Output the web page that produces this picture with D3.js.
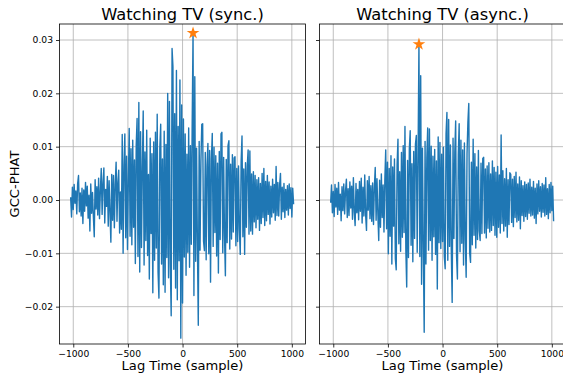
<!DOCTYPE html>
<html>
<head>
<meta charset="utf-8">
<script src="https://cdn.jsdelivr.net/npm/d3@7"></script>
<style>
body { margin: 0; background: #fff; }
text { font-family: "DejaVu Sans", sans-serif; fill: #000; }
</style>
</head>
<body>
<div id="chart"></div>
<script>
// GCC-PHAT values in units of 1e-3, one every 8 lag samples from -1024
var lagStart = -1024, lagStep = 8;
var syncVals = [
  0.5, -3.2, 2.4, -1.8, 2.9, -0.6, 1.7, -2.6, 3.1, 4.6, -2.2, 1.3, -3.0, 2.2, -4.4, 1.9,
  -2.1, 3.3, -1.1, 2.6, -3.4, 0.9, -5.8, 3.0, -2.5, 1.4, -3.1, -6.9, 3.8, -1.7, 2.5, -2.8,
  4.1, -3.5, 1.8, 5.9, -2.7, 3.2, 6.0, -4.3, 2.0, -1.2, 4.4, -4.9, 3.6, -2.3, -7.9, 4.8,
  -3.8, 4.6, -5.2, 2.9, 7.1, -4.0, 3.3, 5.6, -6.2, 1.5, -5.5, 12.3, -10.0, 6.4, 12.4, -7.1,
  8.2, -9.3, 3.7, 13.4, -6.8, 9.6, -8.4, 11.2, -5.1, 7.5, -11.9, 10.3, 15.3, -10.6, 18.3, -13.5,
  12.8, -8.9, 6.1, 16.7, -12.2, 9.0, -7.6, 13.1, -10.4, 4.8, -14.8, 11.6, -6.3, 8.7, -17.4, 10.9,
  -11.3, 12.7, -9.0, 16.1, -13.6, -18.4, 9.8, 14.2, -12.0, 7.7, -15.9, 12.9, -17.3, 10.4, -10.8, 20.0,
  -14.6, 18.5, -12.1, -21.7, 28.4, 25.0, -13.0, 16.2, -16.5, 24.3, -18.7, 13.8, -11.4, 22.5, -25.9, 17.8,
  -19.3, 15.2, -10.7, 12.4, -14.1, 8.6, -9.8, 13.5, -12.6, 10.2, -8.3, 14.0, 31.3, -17.9, 23.1, -11.5,
  9.7, -8.2, -23.5, 11.0, -9.4, 7.3, 14.2, 14.3, -7.7, -9.5, 8.9, -11.2, 6.5, 10.6, -10.1, 9.3,
  -15.4, 7.8, 12.5, -8.7, 9.9, -6.1, 8.3, -10.5, 6.9, -13.7, 9.1, -7.4, 12.4, 12.7, -9.9, 8.0,
  -6.8, -14.2, 7.6, -8.0, 10.2, 11.1, -9.2, 6.7, -7.3, 8.5, -6.0, 7.9, 8.1, -8.6, 5.9, -7.8,
  6.4, -5.5, -10.2, 7.2, 12.0, -6.9, 5.8, -10.2, 7.0, -5.1, 6.3, 9.4, -6.4, 9.2, -5.8, 4.9,
  -6.4, 5.3, -4.1, 4.6, -5.2, 3.8, -3.6, 4.2, -5.7, 3.1, -4.4, 5.0, -3.3, 5.9, -4.8, 3.5,
  -3.9, 4.6, -2.7, 3.4, -4.5, 2.6, -3.2, 3.9, -2.4, 2.9, -3.8, 6.3, -2.9, 3.3, -3.0, 2.8,
  5.0, -3.6, 2.4, -2.2, 3.1, -3.3, 2.0, -1.9, 2.7, -2.8, 3.0, -1.6, 2.3, -3.2, 2.2, -0.8
];
var asyncVals = [
  -0.5, 2.8, -2.4, 1.6, -3.1, 2.9, -1.3, 2.2, -2.7, 3.3, -1.9, 1.1, -3.9, 2.5, -2.0, 3.0,
  -2.6, 1.7, 3.9, -3.3, 2.1, -2.9, 3.4, -1.5, 2.6, -3.6, 4.2, -2.2, -4.8, 3.1, -2.4, 2.0,
  -3.7, 3.5, -2.1, 4.1, -4.3, 2.4, -3.0, 4.7, -2.8, -5.7, 3.6, -1.9, 4.4, -3.5, 2.7, -4.0,
  3.2, -4.6, 2.5, 6.1, -3.8, 4.0, -2.6, -7.6, 3.7, -5.1, 4.9, -3.3, 2.8, -6.0, 3.9, 9.4,
  -5.4, 7.1, -10.1, 5.9, -6.8, 8.3, -12.0, 6.2, -4.9, 7.7, -11.0, -13.1, 6.6, 11.4, -8.2, 5.3,
  -9.6, 8.9, -7.0, 10.2, -6.1, 13.8, -9.3, -16.3, 7.4, -10.8, 9.6, 13.0, -8.5, 6.8, -11.6, 9.1,
  -7.2, 10.5, 12.1, -9.8, 8.4, 29.2, -10.6, 23.3, -15.8, 9.7, -8.8, -24.8, 11.0, -12.0, 7.9, 13.5,
  -9.4, 13.3, -7.6, 10.1, -11.3, 8.2, -6.9, 9.5, -10.2, 7.3, -16.7, 11.8, -8.0, 10.8, -9.1, 8.6,
  -7.8, 9.9, -10.6, -12.9, 12.4, 16.4, -11.3, 15.1, -8.7, 10.3, -9.5, -19.2, 11.6, -7.2, 9.0, 14.8,
  -10.4, -14.8, 8.5, 14.3, -9.7, 11.2, -8.1, 9.4, -12.2, 10.7, -7.5, -14.5, 8.8, 14.6, 18.1, -9.9,
  -11.7, 7.1, -8.4, 11.4, -6.6, 8.7, -9.0, 6.2, -7.4, 9.3, -5.8, -7.6, 6.9, -6.3, 7.8, 8.0,
  -6.2, 5.8, -7.1, 6.4, -5.3, 7.0, -6.0, 4.9, -5.7, 7.3, -4.8, 6.1, -6.6, 5.2, -7.0, 6.3,
  -5.1, 4.7, -6.2, 12.2, -4.4, 5.5, -5.8, 4.0, -4.9, 5.9, -7.0, 3.8, -4.6, 5.1, 4.8, -4.2,
  3.9, -5.0, 4.4, -3.3, 5.2, -4.1, 3.0, -3.8, 4.3, -5.4, 3.6, -2.9, 2.7, -4.0, 3.4, -3.1,
  2.9, -3.6, 3.2, -2.5, 3.9, -3.0, 2.4, -2.8, 3.5, -3.4, 2.2, -4.4, 3.0, -2.6, 3.6, -2.1,
  2.5, -3.2, 3.1, -2.3, 2.8, -3.0, 4.2, -2.7, 2.1, -3.5, 2.9, -2.4, 3.3, -2.0, 2.6, -4.0
];
var titles = ["Watching TV (sync.)", "Watching TV (async.)"];
var peakLags = [96, -216];
var peakVals = [0.0313, 0.0292];
var xTicks = [-1000, -500, 0, 500, 1000];
var yTicks = [-0.02, -0.01, 0, 0.01, 0.02, 0.03];

var width = 563, height = 378;
var plotTop = 24, plotBottom = 344, panelW = 246;
var panelLeft = [59.5, 319.5];

var svg = d3.select('#chart').append('svg')
  .attr('width', width).attr('height', height);

var y = d3.scaleLinear().domain([-0.0270, 0.0330]).range([plotBottom, plotTop]);

[syncVals, asyncVals].forEach(function(vals, p) {
  var x = d3.scaleLinear().domain([-1126, 1125]).range([panelLeft[p], panelLeft[p] + panelW]);
  var g = svg.append('g');

  // grid
  g.selectAll('.vgrid').data(xTicks).enter().append('line')
    .attr('x1', d => x(d)).attr('x2', d => x(d))
    .attr('y1', plotTop).attr('y2', plotBottom)
    .attr('stroke', '#b0b0b0').attr('stroke-width', 0.8);
  g.selectAll('.hgrid').data(yTicks).enter().append('line')
    .attr('x1', x.range()[0]).attr('x2', x.range()[1])
    .attr('y1', d => y(d)).attr('y2', d => y(d))
    .attr('stroke', '#b0b0b0').attr('stroke-width', 0.8);

  // signal
  var line = d3.line()
    .x((d, i) => x(lagStart + i * lagStep))
    .y(d => y(d / 1000));
  g.append('path').datum(vals)
    .attr('d', line)
    .attr('fill', 'none')
    .attr('stroke', '#1f77b4')
    .attr('stroke-width', 1.4)
    .attr('stroke-linejoin', 'round');

  // peak marker
  g.append('path')
    .attr('d', d3.symbol().type(d3.symbolStar).size(50)())
    .attr('transform', 'translate(' + x(peakLags[p]) + ',' + y(peakVals[p]) + ')')
    .attr('fill', '#ff7f0e');

  // axes
  var xa = g.append('g').attr('transform', 'translate(0,' + plotBottom + ')')
    .call(d3.axisBottom(x).tickValues(xTicks).tickFormat(d3.format('d')).tickSize(3.5).tickPadding(3));
  var ya = g.append('g').attr('transform', 'translate(' + panelLeft[p] + ',0)')
    .call(d3.axisLeft(y).tickValues(yTicks).tickFormat(p == 0 ? d3.format('.2f') : '').tickSize(3.5).tickPadding(3));
  [xa, ya].forEach(a => {
    a.select('.domain').remove();
    a.selectAll('.tick line').attr('stroke', '#000').attr('stroke-width', 0.8);
    a.selectAll('.tick text').attr('font-size', 9.2).attr('font-family', '"DejaVu Sans", sans-serif');
  });

  // frame
  g.append('rect')
    .attr('x', panelLeft[p]).attr('y', plotTop)
    .attr('width', panelW).attr('height', plotBottom - plotTop)
    .attr('fill', 'none').attr('stroke', '#000').attr('stroke-width', 0.8);

  g.append('text')
    .attr('x', panelLeft[p] + panelW / 2).attr('y', 20)
    .attr('text-anchor', 'middle').attr('font-size', 16.3)
    .text(titles[p]);
  g.append('text')
    .attr('x', panelLeft[p] + panelW / 2).attr('y', 370)
    .attr('text-anchor', 'middle').attr('font-size', 13.1)
    .text('Lag Time (sample)');
});

svg.append('text')
  .attr('transform', 'translate(19,' + (plotTop + plotBottom) / 2 + ') rotate(-90)')
  .attr('text-anchor', 'middle').attr('font-size', 13.1)
  .text('GCC-PHAT');
</script>
</body>
</html>
